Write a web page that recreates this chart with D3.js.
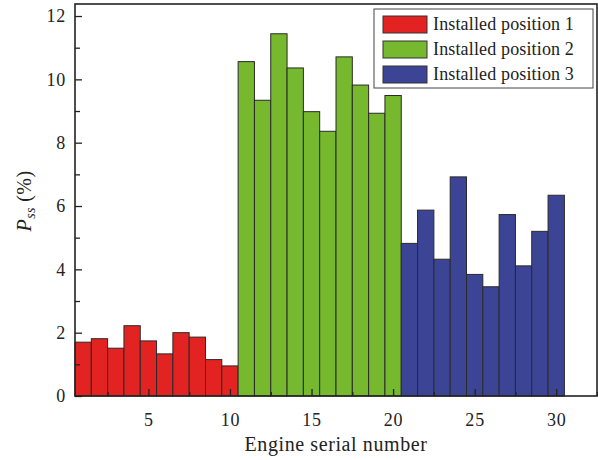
<!DOCTYPE html>
<html>
<head>
<meta charset="utf-8">
<script src="https://cdn.jsdelivr.net/npm/d3@7"></script>
<style>
  body { margin: 0; background: #fff; }
  text { font-family: "Liberation Serif", "Times New Roman", serif; fill: #222; }
</style>
</head>
<body>
<div id="chart"></div>
<script>
// data
let engines = d3.range(1, 31);
let position1 = [1.70, 1.81, 1.51, 2.22, 1.74, 1.33, 2.00, 1.86, 1.15, 0.95];
let position2 = [10.56, 9.34, 11.44, 10.36, 8.98, 8.36, 10.71, 9.82, 8.93, 9.49];
let position3 = [4.82, 5.87, 4.32, 6.92, 3.84, 3.45, 5.73, 4.11, 5.20, 6.34];
let seriesNames = ["Installed position 1", "Installed position 2", "Installed position 3"];
let xTicks = [5, 10, 15, 20, 25, 30];
let yTicks = [0, 2, 4, 6, 8, 10, 12];

let colors = ["#e32322", "#76b82e", "#3c4496"];

let svgWidth = 598;
let svgHeight = 460;

let margin = { top: 4, right: 1, bottom: 64, left: 75 };
let width = svgWidth - margin.left - margin.right;
let height = svgHeight - margin.top - margin.bottom;

let svg = d3.select("#chart")
    .append("svg")
    .attr("width", svgWidth)
    .attr("height", svgHeight);

let chartGroup = svg.append("g")
    .attr("transform", `translate(${margin.left}, ${margin.top})`);

let values = [position1, position2, position3];
let bars = [];
values.forEach((arr, s) => {
    arr.forEach((v, i) => bars.push({ engine: engines[s * 10 + i], value: v, series: s }));
});

let xScale = d3.scaleLinear().domain([0.5, 32.5]).range([0, width]);
let yScale = d3.scaleLinear().domain([0, 12.38]).range([height, 0]);

// bars
chartGroup.selectAll(".bar")
    .data(bars)
    .enter()
    .append("rect")
    .attr("class", "bar")
    .attr("x", d => xScale(d.engine - 0.5))
    .attr("width", d => xScale(d.engine + 0.5) - xScale(d.engine - 0.5))
    .attr("y", d => yScale(d.value))
    .attr("height", d => yScale(0) - yScale(d.value))
    .style("fill", d => colors[d.series])
    .style("stroke", "#2a2a2a")
    .style("stroke-width", 1);

// axes with inward ticks
let bottomAxis = d3.axisBottom(xScale).tickValues(xTicks).tickSizeInner(-7).tickSizeOuter(0).tickPadding(17);
let bottomMinor = d3.axisBottom(xScale).tickValues([2.5, 7.5, 12.5, 17.5, 22.5, 27.5, 32.5]).tickSizeInner(-4).tickSizeOuter(0).tickFormat("");
let leftAxis = d3.axisLeft(yScale).tickValues(yTicks).tickSizeInner(-7).tickSizeOuter(0).tickPadding(9);
let leftMinor = d3.axisLeft(yScale).tickValues([1, 3, 5, 7, 9, 11]).tickSizeInner(-5).tickSizeOuter(0).tickFormat("");

function styleAxis(g) {
    g.select(".domain").remove();
    g.selectAll(".tick line").attr("stroke", "#222").attr("stroke-width", 1.3);
    g.selectAll(".tick text")
        .attr("font-size", 18)
        .attr("font-family", "Liberation Serif")
        .attr("letter-spacing", 0.8)
        .attr("fill", "#222");
}

chartGroup.append("g").attr("transform", `translate(0, ${height})`).call(bottomAxis).call(styleAxis);
chartGroup.append("g").attr("transform", `translate(0, ${height})`).call(bottomMinor).call(styleAxis);
chartGroup.append("g").call(leftAxis).call(styleAxis);
chartGroup.append("g").call(leftMinor).call(styleAxis);

// frame
chartGroup.append("rect")
    .attr("width", width)
    .attr("height", height)
    .attr("fill", "none")
    .attr("stroke", "#222")
    .attr("stroke-width", 1.6);

// legend
let legend = svg.append("g").attr("transform", "translate(374, 9)");
legend.append("rect")
    .attr("width", 219)
    .attr("height", 79)
    .attr("fill", "#fff")
    .attr("stroke", "#444")
    .attr("stroke-width", 1);
seriesNames.forEach((name, i) => {
    let row = legend.append("g").attr("transform", `translate(9, ${7 + i * 25})`);
    row.append("rect")
        .attr("width", 44)
        .attr("height", 17)
        .attr("fill", colors[i])
        .attr("stroke", "#333")
        .attr("stroke-width", 1);
    row.append("text")
        .attr("x", 50)
        .attr("y", 14)
        .attr("font-size", 18)
        .attr("letter-spacing", 0.15)
        .text(name);
});

// axis titles
svg.append("text")
    .attr("x", 336)
    .attr("y", 451)
    .attr("text-anchor", "middle")
    .attr("font-size", 20)
    .attr("letter-spacing", 0.6)
    .text("Engine serial number");

let yTitle = svg.append("text")
    .attr("transform", "translate(31, 201) rotate(-90)")
    .attr("text-anchor", "middle")
    .attr("font-size", 20)
    .attr("letter-spacing", 0.4);
yTitle.append("tspan").attr("font-style", "italic").text("P");
yTitle.append("tspan").attr("font-style", "italic").attr("font-size", 14).attr("dy", 4).text("ss");
yTitle.append("tspan").attr("dy", -4).text(" (%)");
</script>
</body>
</html>
